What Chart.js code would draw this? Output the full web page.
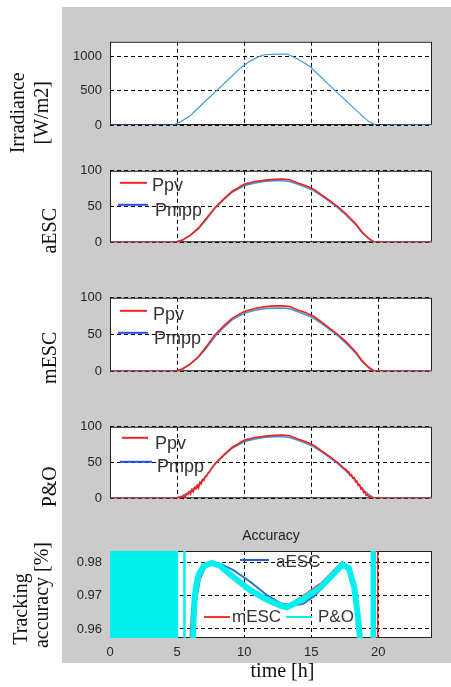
<!DOCTYPE html>
<html>
<head>
<meta charset="utf-8">
<script src="https://cdn.jsdelivr.net/npm/chart.js@4.4.1/dist/chart.umd.min.js"></script>
<style>
  body { margin: 0; background: #fff; width: 451px; height: 687px; position: relative; overflow: hidden; }
  #bg { position: absolute; left: 62px; top: 7px; width: 389px; height: 656px; background: #cbcbcb; }
  canvas { position: absolute; left: 0; }
</style>
</head>
<body>
<div id="bg"></div>
<canvas id="c1" width="451" height="139" style="top:26px"></canvas>
<canvas id="c2" width="451" height="103" style="top:155px"></canvas>
<canvas id="c3" width="451" height="105" style="top:282px"></canvas>
<canvas id="c4" width="451" height="103" style="top:411px"></canvas>
<canvas id="c5" width="451" height="167" style="top:520px"></canvas>
<script>
// Axis ticks
const timeTicks = [0, 5, 10, 15, 20];
const irrTicks = [0, 500, 1000];
const powerTicks = [0, 50, 100];
const accTicks = [0.96, 0.97, 0.98];

// Irradiance [W/m2]
const irrTime = [0, 4.7, 5.2, 6.0, 7.0, 8.0, 9.0, 9.7, 10.4, 11.0, 11.5, 12.5, 13.2, 13.8, 14.4, 14.9, 16.0, 16.8, 18.0, 18.9, 19.3, 19.8, 24];
const irrVals = [0, 0, 40, 139, 330, 515, 700, 833, 930, 995, 1030, 1040, 1040, 985, 920, 857, 650, 500, 280, 115, 50, 0, 0];
const irrBaseTime = [0, 4.7, 4.75, 19.8, 20.9];
const irrBaseVals = [0, 0, null, 0, 0];

// Power curves
const pTime = [0, 4.9, 5.4, 6.0, 6.6, 7.2, 7.8, 8.5, 9.1, 10.0, 10.8, 11.6, 12.3, 12.8, 13.4, 14.0, 14.6, 15.2, 15.8, 16.4, 17.0, 17.6, 18.3, 18.8, 19.3, 19.7, 24];
const pmpp = [0, 0, 3, 10, 19, 32, 47, 60, 70, 79, 83, 85.5, 86, 86, 85, 81, 77, 72, 64.5, 56.5, 48, 38, 25, 13, 5, 0, 0];
const aescPpv = [0, 0, 3, 10, 20, 34, 48, 61, 71, 81, 85, 87, 88, 88.5, 87.5, 83, 79, 74, 66, 58, 49.5, 39.5, 26, 14, 5, 0, 0];
const mescPpv = [0, 0, 3, 10, 20, 34, 49, 62, 72, 81.5, 85.5, 88, 89, 89, 88, 83.5, 79.5, 74.5, 66.5, 58, 50, 40, 26.5, 14, 5, 0, 0];
const poPTime = [0, 5.0, 5.1, 5.2, 5.3, 5.4, 5.5, 5.6, 5.7, 5.8, 5.9, 6.0, 6.1, 6.2, 6.3, 6.4, 6.5, 6.6, 6.7, 6.8, 6.9, 7.0, 7.1, 7.2, 7.3, 7.4, 7.5, 7.8, 8.5, 9.1, 10.0, 10.8, 11.6, 12.3, 12.8, 13.4, 14.0, 14.6, 15.2, 15.8, 16.4, 17.0, 17.4, 17.6, 17.7, 17.8, 17.9, 18.0, 18.1, 18.2, 18.3, 18.4, 18.5, 18.6, 18.7, 18.8, 18.9, 19.0, 19.1, 19.2, 19.3, 19.4, 19.6, 24];
const poPpv = [0, 0, 1, 0, 2, 1, 4, 2, 6, 5, 9, 6, 12, 9, 15, 13, 18, 14, 22, 20, 26, 25, 30, 31, 35, 36, 40, 48, 61, 71, 81, 85, 87, 88, 88.5, 87.5, 83, 79, 74, 66, 58, 49.5, 42.5, 40, 37, 37, 32, 33, 28, 29, 23, 24, 18, 19, 13, 14, 8, 9, 4, 5, 1, 2, 0, 0];

// Tracking accuracy
const aescAccTime = [6.2, 6.4, 6.7, 7.1, 7.7, 8.2, 9.2, 10.45, 11.7, 12.7, 13.6, 14.4, 15.2, 16.0, 16.9, 17.4, 17.9, 18.25, 18.5, 18.75];
const aescAcc = [0.955, 0.968, 0.975, 0.9785, 0.9798, 0.9795, 0.9776, 0.9741, 0.9701, 0.9677, 0.9670, 0.9675, 0.9698, 0.9730, 0.9772, 0.9790, 0.9778, 0.972, 0.963, 0.954];
const mescAccTime = [5.95, 6.0, 6.1, 6.3, 6.5, 6.8, 7.2, 7.6, 8.2, 9.2, 10.45, 11.7, 12.7, 13.2, 14.4, 15.7, 16.9, 17.3, 17.8, 18.2, 18.45, 18.7, 18.8, 19.95, 19.95];
const mescAcc = [0.950, 0.9593, 0.966, 0.971, 0.9746, 0.9772, 0.979, 0.9799, 0.9792, 0.9757, 0.9718, 0.9689, 0.9672, 0.9668, 0.9700, 0.9736, 0.9784, 0.9800, 0.9787, 0.9728, 0.9650, 0.9540, null, 0.950, 0.990];
const poAccTime = [6.15, 6.22, 6.3, 6.4, 6.6, 7.0, 7.6, 8.2, 9.2, 10.45, 11.7, 12.7, 13.2, 14.4, 15.7, 16.9, 17.3, 17.8, 18.2, 18.45, 18.7];
const poAcc = [0.950, 0.962, 0.969, 0.9725, 0.9762, 0.9788, 0.9797, 0.9788, 0.9755, 0.9716, 0.9687, 0.9670, 0.9665, 0.9690, 0.9725, 0.9774, 0.9792, 0.9782, 0.9726, 0.9648, 0.9540];
const poNightTime = [0, 5.1];
const poNightAcc = [0.99, 0.99];
const poDuskTime = [19.4, 19.85];
const poDuskAcc = [0.99, 0.99];
const poSpikeTime = [5.55, 5.55];
const poSpikeAcc = [0.95, 0.99];

const pts = (xs, ys) => xs.map((x, i) => ({ x: x, y: ys[i] }));

Chart.defaults.font.family = '"Liberation Sans", Arial, sans-serif';

// white plot area, box frame, floating legend entries and side labels
const panelDecor = {
  id: 'panelDecor',
  beforeDraw(chart) {
    const { ctx, chartArea: a } = chart;
    ctx.save();
    ctx.fillStyle = '#fff';
    ctx.fillRect(a.left, a.top, a.right - a.left, a.bottom - a.top);
    ctx.restore();
  },
  beforeDatasetsDraw(chart) {
    const { ctx, chartArea: a } = chart;
    ctx.save();
    ctx.strokeStyle = '#222';
    ctx.lineWidth = 1;
    ctx.strokeRect(a.left + 0.5, a.top + 0.5, a.right - a.left - 1, a.bottom - a.top - 1);
    ctx.restore();
  },
  afterDraw(chart, args, opts) {
    const { ctx, chartArea: a } = chart;
    ctx.save();
    (opts.legend || []).forEach(it => {
      ctx.strokeStyle = it.color;
      ctx.lineWidth = 2;
      ctx.beginPath();
      ctx.moveTo(a.left + it.x1, a.top + it.ly);
      ctx.lineTo(a.left + it.x2, a.top + it.ly);
      ctx.stroke();
      ctx.fillStyle = '#333';
      ctx.font = (opts.legendSize || 18) + 'px "Liberation Sans", Arial, sans-serif';
      ctx.textAlign = 'left';
      ctx.textBaseline = 'alphabetic';
      ctx.fillText(chart.data.datasets[it.ds].label, a.left + it.tx, a.top + it.ty);
    });
    (opts.labels || []).forEach(l => {
      ctx.save();
      ctx.translate(a.left + l.dx, a.top + l.dy);
      if (l.rotate !== false) ctx.rotate(-Math.PI / 2);
      ctx.fillStyle = '#111';
      ctx.font = '20px "Liberation Serif", "Times New Roman", serif';
      ctx.textAlign = 'center';
      ctx.textBaseline = 'middle';
      ctx.fillText(l.text, 0, 0);
      ctx.restore();
    });
    ctx.restore();
  }
};

function makeChart(id, cfg) {
  return new Chart(document.getElementById(id), {
    type: 'line',
    data: { datasets: cfg.datasets },
    plugins: [panelDecor],
    options: {
      responsive: false,
      animation: false,
      devicePixelRatio: 1,
      layout: { padding: { left: 0, right: 19, top: cfg.padTop, bottom: 0 } },
      elements: { point: { radius: 0 }, line: { tension: 0 } },
      plugins: {
        legend: { display: false },
        tooltip: { enabled: false },
        title: cfg.title || { display: false },
        panelDecor: cfg.decor
      },
      scales: {
        x: {
          type: 'linear', min: 0, max: 24,
          afterBuildTicks: s => { s.ticks = timeTicks.map(v => ({ value: v })); },
          afterFit: s => { s.height = cfg.bottom; },
          ticks: { display: !!cfg.showX, padding: 7, color: '#262626', font: { size: 13 }, callback: v => String(v) },
          grid: { color: '#000', lineWidth: 1, drawTicks: false },
          border: { display: false, dash: [4, 3] }
        },
        y: {
          type: 'linear', min: cfg.yMin, max: cfg.yMax,
          afterBuildTicks: s => { s.ticks = cfg.yTicks.map(v => ({ value: v })); },
          afterFit: s => { s.width = 110; },
          ticks: { padding: 8, color: '#262626', font: { size: 13 }, callback: v => String(v) },
          grid: { color: '#000', lineWidth: 1, drawTicks: false },
          border: { display: false, dash: [4, 3] }
        }
      }
    }
  });
}

const red = '#ff1a1a';
const lightBlue = '#3d9ad6';

makeChart('c1', {
  padTop: 12, bottom: 40, yMin: 0, yMax: 1220, yTicks: irrTicks,
  datasets: [
    { label: 'Irradiance', data: pts(irrBaseTime, irrBaseVals), borderColor: '#1d3f6e', borderWidth: 2 },
    { label: 'Irradiance', data: pts(irrTime, irrVals), borderColor: lightBlue, borderWidth: 1.2 }
  ],
  decor: { labels: [
    { text: 'Irradiance', dx: -91.5, dy: 71 },
    { text: '[W/m2]', dx: -67, dy: 71 }
  ] }
});

function powerPanel(id, ppv, ppvTime, name, legend) {
  makeChart(id, {
    padTop: 12, bottom: 6, yMin: 0, yMax: 100, yTicks: powerTicks,
    datasets: [
      { label: 'Ppv', data: pts(ppvTime, ppv), borderColor: red, borderWidth: 1.6 },
      { label: 'Pmpp', data: pts(pTime, pmpp), borderColor: lightBlue, borderWidth: 1.6 }
    ],
    decor: { legend: legend, labels: [{ text: name, dx: -59, dy: 60 }] }
  });
}

powerPanel('c2', aescPpv, pTime, 'aESC', [
  { ds: 0, color: '#ff2020', x1: 10, x2: 37, ly: 12, tx: 42, ty: 20 },
  { ds: 1, color: '#2050f0', x1: 8, x2: 38, ly: 34, tx: 45, ty: 45 }
]);
powerPanel('c3', mescPpv, pTime, 'mESC', [
  { ds: 0, color: '#ff2020', x1: 10, x2: 37, ly: 13, tx: 43, ty: 22 },
  { ds: 1, color: '#2050f0', x1: 8, x2: 38, ly: 35, tx: 44, ty: 46 }
]);
powerPanel('c4', poPpv, poPTime, 'P&O', [
  { ds: 0, color: '#ff2020', x1: 12, x2: 38, ly: 11, tx: 45, ty: 22 },
  { ds: 1, color: '#2050f0', x1: 10, x2: 42, ly: 35, tx: 47, ty: 45 }
]);

const cyan = '#00f0f0';
makeChart('c5', {
  padTop: 0, bottom: 49, yMin: 0.9573, yMax: 0.9833, yTicks: accTicks, showX: true,
  title: { display: true, text: 'Accuracy', fullSize: false, color: '#222',
    font: { size: 14, weight: 'normal', lineHeight: '17px' }, padding: { top: 8, bottom: 6 } },
  datasets: [
    { label: 'aESC', data: pts(aescAccTime, aescAcc), borderColor: '#2a74c6', borderWidth: 2, order: 2, clip: 0 },
    { label: 'mESC', data: pts(mescAccTime, mescAcc), borderColor: red, borderWidth: 1.5, order: 1, clip: 0 },
    { label: 'P&O', data: pts(poAccTime, poAcc), borderColor: cyan, borderWidth: 6, order: 0, clip: 0 },
    { label: 'P&O', data: pts(poNightTime, poNightAcc), borderWidth: 0, backgroundColor: cyan, fill: 'start', order: 0, clip: 0 },
    { label: 'P&O', data: pts(poDuskTime, poDuskAcc), borderWidth: 0, backgroundColor: cyan, fill: 'start', order: 0, clip: 0 },
    { label: 'P&O', data: pts(poSpikeTime, poSpikeAcc), borderColor: cyan, borderWidth: 2.5, order: 0, clip: 0 }
  ],
  decor: {
    legendSize: 17,
    legend: [
      { ds: 0, color: '#1f5fd0', x1: 130, x2: 159, ly: 9, tx: 166, ty: 16 },
      { ds: 1, color: '#ff3030', x1: 94, x2: 120, ly: 66, tx: 122, ty: 71 },
      { ds: 2, color: cyan, x1: 176, x2: 202, ly: 66, tx: 208, ty: 71 }
    ],
    labels: [
      { text: 'Tracking', dx: -88.5, dy: 58 },
      { text: 'accuracy [%]', dx: -67.5, dy: 44 },
      { text: 'time [h]', dx: 172.5, dy: 121, rotate: false }
    ]
  }
});
</script>
</body>
</html>
